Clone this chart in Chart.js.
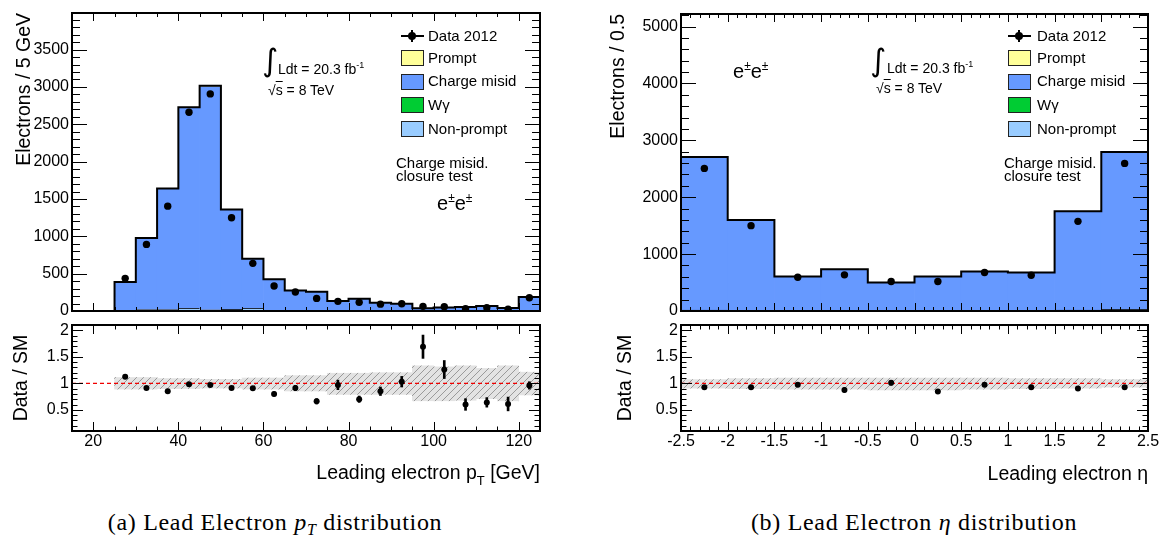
<!DOCTYPE html>
<html>
<head>
<meta charset="utf-8">
<title>Lead electron distributions</title>
<script src="https://cdn.jsdelivr.net/npm/chart.js@4.4.1/dist/chart.umd.min.js"></script>
<style>
  body { margin: 0; background: #fff; }
  #page { position: relative; width: 1166px; height: 541px; overflow: hidden; font-family: "Liberation Sans", Arial, sans-serif; color: #000; }
  #page canvas { position: absolute; }
  .t { position: absolute; white-space: nowrap; line-height: 18px; }
  .leg { font-size: 15px; }
  .ann { font-size: 14px; }
  .box { position: absolute; width: 21px; height: 14px; border: 1px solid #222; }
  .hl { position: absolute; width: 23px; height: 2px; background: #000; }
  .vl { position: absolute; width: 2px; height: 12px; background: #000; }
  .dot { position: absolute; width: 8px; height: 8px; border-radius: 50%; background: #000; }
  .note { position: absolute; white-space: nowrap; font-size: 15px; line-height: 12.7px; }
  .ee { position: absolute; white-space: nowrap; font-size: 20px; line-height: 24px; }
  .ee sup { font-size: 12px; vertical-align: 8px; }
  .integ { position: absolute; font-family: "DejaVu Sans", sans-serif; font-size: 31px; line-height: 32px; }
  .ann sup { font-size: 9px; vertical-align: 6px; }
  .ov { text-decoration: overline; }
  .axt { position: absolute; white-space: nowrap; font-size: 19.5px; line-height: 24px; text-align: right; }
  .axt sub { font-size: 13px; vertical-align: -6px; }
  .cap { position: absolute; width: 460px; text-align: center; white-space: nowrap; font-family: "Liberation Serif", serif; font-size: 24px; letter-spacing: 0.7px; line-height: 28px; }
  .cap sub { font-size: 16px; vertical-align: -5px; }
</style>
</head>
<body>
<div id="page">
  <canvas id="ptMain" width="560" height="318" style="left:0;top:0"></canvas>
  <canvas id="ptRatio" width="560" height="182" style="left:0;top:318px"></canvas>
  <canvas id="etaMain" width="566" height="318" style="left:600px;top:0"></canvas>
  <canvas id="etaRatio" width="566" height="182" style="left:600px;top:318px"></canvas>

  <!-- left panel annotations -->
  <div class="integ" style="left:262px;top:44px">∫</div>
  <div class="t ann" style="left:278px;top:56px">Ldt = 20.3 fb<sup>-1</sup></div>
  <div class="t ann" style="left:268px;top:81px">√<span class="ov">s</span> = 8 TeV</div>

  <div class="hl" style="left:401px;top:35px"></div>
  <div class="vl" style="left:411px;top:30px"></div>
  <div class="dot" style="left:408px;top:32px"></div>
  <div class="t leg" style="left:428px;top:27px">Data 2012</div>
  <div class="box" style="left:401px;top:50px;background:#ffff99"></div>
  <div class="t leg" style="left:428px;top:48.5px">Prompt</div>
  <div class="box" style="left:401px;top:73.5px;background:#6699ff"></div>
  <div class="t leg" style="left:428px;top:72px">Charge misid</div>
  <div class="box" style="left:401px;top:97px;background:#00cc33"></div>
  <div class="t leg" style="left:428px;top:96px">Wγ</div>
  <div class="box" style="left:401px;top:120.5px;background:#99ccff"></div>
  <div class="t leg" style="left:428px;top:119.5px">Non-prompt</div>
  <div class="note" style="left:396px;top:157px">Charge misid.<br>closure test</div>
  <div class="ee" style="left:437px;top:186px">e<sup>±</sup>e<sup>±</sup></div>

  <!-- right panel annotations -->
  <div class="ee" style="left:733px;top:54px">e<sup>±</sup>e<sup>±</sup></div>
  <div class="integ" style="left:870px;top:44px">∫</div>
  <div class="t ann" style="left:887px;top:55px">Ldt = 20.3 fb<sup>-1</sup></div>
  <div class="t ann" style="left:876px;top:79px">√<span class="ov">s</span> = 8 TeV</div>

  <div class="hl" style="left:1008px;top:35px"></div>
  <div class="vl" style="left:1018px;top:30px"></div>
  <div class="dot" style="left:1015px;top:32px"></div>
  <div class="t leg" style="left:1037px;top:27px">Data 2012</div>
  <div class="box" style="left:1008px;top:50px;background:#ffff99"></div>
  <div class="t leg" style="left:1037px;top:48.5px">Prompt</div>
  <div class="box" style="left:1008px;top:73.5px;background:#6699ff"></div>
  <div class="t leg" style="left:1037px;top:72px">Charge misid</div>
  <div class="box" style="left:1008px;top:97px;background:#00cc33"></div>
  <div class="t leg" style="left:1037px;top:96px">Wγ</div>
  <div class="box" style="left:1008px;top:120.5px;background:#99ccff"></div>
  <div class="t leg" style="left:1037px;top:119.5px">Non-prompt</div>
  <div class="note" style="left:1004px;top:157px">Charge misid.<br>closure test</div>

  <!-- axis titles and captions -->
  <div class="axt" style="right:626px;top:460px">Leading electron p<sub>T</sub> [GeV]</div>
  <div class="axt" style="right:18px;top:461px">Leading electron η</div>
  <div class="cap" style="left:45px;top:508px">(a) Lead Electron <i>p<sub>T</sub></i> distribution</div>
  <div class="cap" style="left:684px;top:508px">(b) Lead Electron <i>η</i> distribution</div>
</div>

<script>
Chart.defaults.font.family = '"Liberation Sans", Arial, sans-serif'
Chart.defaults.color = '#000'

// leading electron pT, 5 GeV bins (low edges)
const ptBinLow = [15, 20, 25, 30, 35, 40, 45, 50, 55, 60, 65, 70, 75, 80, 85, 90, 95, 100, 105, 110, 115, 120]
const ptNonPrompt = [0, 0, 12, 25, 25, 40, 20, 27, 40, 13, 13, 8, 6, 6, 5, 4, 3, 3, 3, 3, 3, 6]
const ptWgamma = [0, 0, 0, 0, 0, 0, 0, 0, 0, 0, 0, 0, 0, 0, 0, 0, 0, 0, 0, 0, 0, 0]
const ptChargeMisid = [0, 0, 373, 946, 1608, 2675, 2983, 1327, 656, 408, 261, 249, 127, 158, 104, 93, 32, 42, 49, 63, 36, 179]
const ptPrompt = [0, 0, 3, 5, 8, 12, 12, 6, 4, 3, 2, 2, 1, 1, 1, 1, 1, 1, 1, 1, 1, 2]
const ptData = [null, null, 437, 892, 1404, 2662, 2907, 1248, 638, 334, 254, 169, 129, 116, 92, 98, 62, 58, 31, 45, 24, 178]
const ptRatio = [null, null, 1.125, 0.91, 0.85, 0.98, 0.97, 0.91, 0.905, 0.80, 0.91, 0.66, 0.97, 0.70, 0.85, 1.03, 1.69, 1.26, 0.60, 0.64, 0.61, 0.96]
const ptRatioErr = [null, null, 0.03, 0.02, 0.02, 0.01, 0.01, 0.02, 0.03, 0.04, 0.05, 0.05, 0.09, 0.06, 0.08, 0.1, 0.22, 0.17, 0.11, 0.09, 0.13, 0.07]
const ptBandHi = [null, null, 1.11, 1.11, 1.09, 1.09, 1.075, 1.075, 1.10, 1.10, 1.145, 1.145, 1.19, 1.19, 1.2, 1.2, 1.33, 1.31, 1.33, 1.28, 1.33, 1.21]
const ptBandLo = [null, null, 0.89, 0.89, 0.90, 0.90, 0.91, 0.91, 0.89, 0.89, 0.855, 0.855, 0.79, 0.79, 0.79, 0.79, 0.67, 0.67, 0.68, 0.71, 0.67, 0.78]
const ptXTicks = [20, 40, 60, 80, 100, 120]
const ptYTicks = [0, 500, 1000, 1500, 2000, 2500, 3000, 3500]

// leading electron eta, 0.5 bins (low edges)
const etaBinLow = [-2.5, -2, -1.5, -1, -0.5, 0, 0.5, 1, 1.5, 2]
const etaNonPrompt = [20, 15, 10, 10, 8, 8, 10, 12, 20, 35]
const etaWgamma = [0, 0, 0, 0, 0, 0, 0, 0, 0, 0]
const etaChargeMisid = [2681, 1582, 594, 723, 491, 597, 682, 662, 1730, 2754]
const etaPrompt = [5, 3, 2, 2, 1, 1, 2, 2, 3, 5]
const etaData = [2506, 1500, 594, 635, 518, 518, 676, 629, 1576, 2594]
const etaRatio = [0.925, 0.925, 0.975, 0.875, 1.01, 0.845, 0.975, 0.925, 0.90, 0.925]
const etaRatioErr = [0.02, 0.025, 0.04, 0.04, 0.045, 0.04, 0.04, 0.04, 0.025, 0.02]
const etaBandHi = [1.07, 1.09, 1.1, 1.1, 1.1, 1.1, 1.1, 1.09, 1.09, 1.07]
const etaBandLo = [0.91, 0.9, 0.89, 0.89, 0.875, 0.875, 0.89, 0.9, 0.91, 0.925]
const etaXTicks = [-2.5, -2, -1.5, -1, -0.5, 0, 0.5, 1, 1.5, 2, 2.5]
const etaYTicks = [0, 1000, 2000, 3000, 4000, 5000]

const ratioYTicks = [0.5, 1, 1.5, 2]

// ROOT style frame: box plus inward ticks on all four sides
const rootAxes = {
  id: 'rootAxes',
  afterDatasetsDraw(chart, args, o) {
    const {ctx, chartArea: a, scales: {x, y}} = chart
    ctx.save()
    ctx.strokeStyle = '#000'
    ctx.lineWidth = 1
    ctx.beginPath()
    const tickX = (v, len) => {
      const px = Math.round(x.getPixelForValue(v)) + 0.5
      ctx.moveTo(px, a.bottom); ctx.lineTo(px, a.bottom - len)
      ctx.moveTo(px, a.top); ctx.lineTo(px, a.top + len)
    }
    const tickY = (v, len) => {
      const py = Math.round(y.getPixelForValue(v)) + 0.5
      ctx.moveTo(a.left, py); ctx.lineTo(a.left + len, py)
      ctx.moveTo(a.right, py); ctx.lineTo(a.right - len, py)
    }
    for (let k = Math.ceil(x.min / o.xMinor - 1e-6); k * o.xMinor <= x.max + 1e-6; k++) tickX(k * o.xMinor, o.xLen[1])
    for (let k = Math.ceil(y.min / o.yMinor - 1e-6); k * o.yMinor <= y.max + 1e-6; k++) tickY(k * o.yMinor, o.yLen[1])
    o.xMajor.forEach(v => tickX(v, o.xLen[0]))
    o.yMajor.forEach(v => tickY(v, o.yLen[0]))
    ctx.stroke()
    ctx.lineWidth = 2
    ctx.strokeRect(a.left, a.top, a.right - a.left, a.bottom - a.top)
    ctx.restore()
  }
}

function hatchPattern() {
  const c = document.createElement('canvas')
  c.width = 7
  c.height = 7
  const g = c.getContext('2d')
  g.fillStyle = '#e3e3e3'
  g.fillRect(0, 0, 7, 7)
  g.strokeStyle = '#9a9a9a'
  g.lineWidth = 1
  g.beginPath()
  g.moveTo(0, 7); g.lineTo(7, 0)
  g.moveTo(-1, 1); g.lineTo(1, -1)
  g.moveTo(6, 8); g.lineTo(8, 6)
  g.stroke()
  return g.createPattern(c, 'repeat')
}

function mainChart(id, cfg) {
  const centers = cfg.lows.map(v => v + cfg.width / 2)
  const total = cfg.lows.map((_, i) => cfg.parts.reduce((s, p) => s + p.values[i], 0))
  const outline = cfg.lows.map((v, i) => ({x: v, y: total[i]}))
  outline.push({x: cfg.lows[cfg.lows.length - 1] + cfg.width, y: total[total.length - 1]})

  const datasets = cfg.parts.map((p, k) => ({
    type: 'bar',
    label: p.label,
    order: k + 1,
    data: centers.map((c, i) => ({x: c, y: p.values[i] > 0 ? p.values[i] : null})),
    backgroundColor: p.color,
    borderColor: '#1f2a3a',
    borderWidth: p.edge ? {top: 1, left: 0, right: 0, bottom: 0} : 0,
    inflateAmount: p.main ? 'auto' : 0,
    barPercentage: 1,
    categoryPercentage: 1
  }))
  datasets.push({
    type: 'line', stack: 'outline', order: 0, data: outline, stepped: true,
    borderColor: '#000', borderWidth: 2, pointRadius: 0, fill: false
  })
  datasets.push({
    type: 'line', stack: 'data', order: -1,
    data: centers.map((c, i) => ({x: c, y: cfg.data[i]})).filter(p => p.y !== null),
    showLine: false, pointRadius: 3.7, pointBackgroundColor: '#000', pointBorderWidth: 0
  })

  return new Chart(document.getElementById(id), {
    type: 'bar',
    data: {datasets},
    plugins: [rootAxes],
    options: {
      responsive: false,
      animation: false,
      events: [],
      layout: {padding: cfg.pad},
      plugins: {
        legend: {display: false},
        tooltip: {enabled: false},
        rootAxes: {xMajor: cfg.xTicks, xMinor: cfg.xMinor, yMajor: cfg.yTicks, yMinor: cfg.yMinor, xLen: [8, 4], yLen: [15, 8]}
      },
      scales: {
        x: {
          type: 'linear', min: cfg.xMin, max: cfg.xMax, stacked: true, offset: false,
          grid: {display: false, drawTicks: false}, border: {display: false},
          ticks: {display: false},
          afterFit: s => { s.height = 0; s.paddingLeft = 0; s.paddingRight = 0 }
        },
        y: {
          type: 'linear', min: 0, max: cfg.yMax, stacked: true,
          grid: {display: false, drawTicks: false}, border: {display: false},
          ticks: {padding: 3, font: {size: 16}, callback: v => String(v)},
          afterBuildTicks: s => { s.ticks = cfg.yTicks.map(v => ({value: v})) },
          afterFit: s => { s.width = cfg.axisWidth; s.paddingTop = 0; s.paddingBottom = 0 },
          title: {display: true, text: cfg.yTitle, align: 'end', font: {size: 19.5}, padding: {top: cfg.titlePad, bottom: 0}}
        }
      }
    }
  })
}

function ratioChart(id, cfg) {
  const centers = cfg.lows.map(v => v + cfg.width / 2)
  const band = centers.map((c, i) => ({x: c, y: [cfg.bandLo[i], cfg.bandHi[i]]})).filter(p => p.y[0] !== null)
  const errs = centers.map((c, i) => ({x: c, y: cfg.ratio[i] === null ? null : [cfg.ratio[i] - cfg.err[i], cfg.ratio[i] + cfg.err[i]]})).filter(p => p.y !== null)
  const pts = centers.map((c, i) => ({x: c, y: cfg.ratio[i]})).filter(p => p.y !== null)

  return new Chart(document.getElementById(id), {
    type: 'bar',
    data: {
      datasets: [
        {type: 'bar', order: 3, data: band, backgroundColor: hatchPattern(), borderWidth: 0, grouped: false, barPercentage: 1, categoryPercentage: 1},
        {type: 'line', order: 2, data: [{x: cfg.xMin, y: 1}, {x: cfg.xMax, y: 1}], borderColor: '#f00000', borderWidth: 1.2, borderDash: [4, 3], pointRadius: 0},
        {type: 'bar', order: 1, data: errs, backgroundColor: '#000', borderWidth: 0, barThickness: 2, grouped: false},
        {type: 'line', order: 0, data: pts, showLine: false, pointRadius: 3, pointBackgroundColor: '#000', pointBorderWidth: 0}
      ]
    },
    plugins: [rootAxes],
    options: {
      responsive: false,
      animation: false,
      events: [],
      layout: {padding: cfg.pad},
      plugins: {
        legend: {display: false},
        tooltip: {enabled: false},
        rootAxes: {xMajor: cfg.xTicks, xMinor: cfg.xMinor, yMajor: ratioYTicks, yMinor: 0.1, xLen: [9, 4.5], yLen: [11, 5.5]}
      },
      scales: {
        x: {
          type: 'linear', min: cfg.xMin, max: cfg.xMax, offset: false,
          grid: {display: false, drawTicks: false}, border: {display: false},
          ticks: {padding: 1, font: {size: 16}, maxRotation: 0, autoSkip: false, callback: v => String(v)},
          afterBuildTicks: s => { s.ticks = cfg.xTicks.map(v => ({value: v})) },
          afterFit: s => { s.height = 69; s.paddingLeft = 0; s.paddingRight = 0 }
        },
        y: {
          type: 'linear', min: 0.1, max: 2.1,
          grid: {display: false, drawTicks: false}, border: {display: false},
          ticks: {padding: 3, font: {size: 16}, callback: v => String(v)},
          afterBuildTicks: s => { s.ticks = ratioYTicks.map(v => ({value: v})) },
          afterFit: s => { s.width = cfg.axisWidth; s.paddingTop = 0; s.paddingBottom = 0 },
          title: {display: true, text: 'Data / SM', align: 'center', font: {size: 19.5}, padding: {top: cfg.titlePad, bottom: 0}}
        }
      }
    }
  })
}

window.addEventListener('load', () => {
  mainChart('ptMain', {
    lows: ptBinLow, width: 5, xMin: 15, xMax: 125, yMax: 3990,
    parts: [
      {label: 'Non-prompt', values: ptNonPrompt, color: '#99ccff', edge: true, main: false},
      {label: 'Wγ', values: ptWgamma, color: '#00cc33', edge: false, main: false},
      {label: 'Charge misid', values: ptChargeMisid, color: '#6699ff', edge: false, main: true},
      {label: 'Prompt', values: ptPrompt, color: '#ffff99', edge: false, main: false}
    ],
    data: ptData, xTicks: ptXTicks, xMinor: 5, yTicks: ptYTicks, yMinor: 100,
    yTitle: 'Electrons / 5 GeV', axisWidth: 72, titlePad: 13,
    pad: {top: 13, right: 20, bottom: 7, left: 0}
  })
  ratioChart('ptRatio', {
    lows: ptBinLow, width: 5, xMin: 15, xMax: 125,
    ratio: ptRatio, err: ptRatioErr, bandLo: ptBandLo, bandHi: ptBandHi,
    xTicks: ptXTicks, xMinor: 5, axisWidth: 72, titlePad: 10,
    pad: {top: 7, right: 20, bottom: 0, left: 0}
  })
  mainChart('etaMain', {
    lows: etaBinLow, width: 0.5, xMin: -2.5, xMax: 2.5, yMax: 5220,
    parts: [
      {label: 'Non-prompt', values: etaNonPrompt, color: '#99ccff', edge: true, main: false},
      {label: 'Wγ', values: etaWgamma, color: '#00cc33', edge: false, main: false},
      {label: 'Charge misid', values: etaChargeMisid, color: '#6699ff', edge: false, main: true},
      {label: 'Prompt', values: etaPrompt, color: '#ffff99', edge: false, main: false}
    ],
    data: etaData, xTicks: etaXTicks, xMinor: 0.1, yTicks: etaYTicks, yMinor: 200,
    yTitle: 'Electrons / 0.5', axisWidth: 81, titlePad: 6.5,
    pad: {top: 14, right: 18, bottom: 7, left: 0}
  })
  ratioChart('etaRatio', {
    lows: etaBinLow, width: 0.5, xMin: -2.5, xMax: 2.5,
    ratio: etaRatio, err: etaRatioErr, bandLo: etaBandLo, bandHi: etaBandHi,
    xTicks: etaXTicks, xMinor: 0.1, axisWidth: 81, titlePad: 14,
    pad: {top: 7, right: 18, bottom: 0, left: 0}
  })
})
</script>
</body>
</html>
